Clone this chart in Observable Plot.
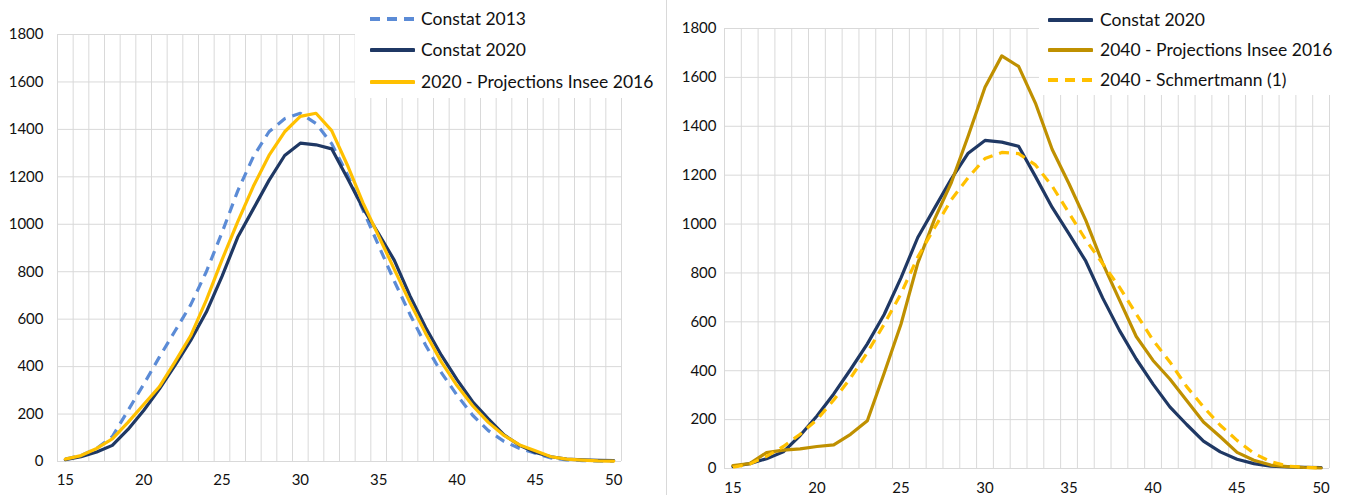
<!DOCTYPE html>
<html>
<head>
<meta charset="utf-8">
<script src="https://cdn.jsdelivr.net/npm/d3@7"></script>
<script src="https://cdn.jsdelivr.net/npm/@observablehq/plot@0.6"></script>
<style>
  html, body { margin: 0; padding: 0; background: #fff; }
  #root { position: relative; width: 1347px; height: 495px; overflow: hidden; font-family: Lato, "Open Sans", sans-serif; }
  .chart { position: absolute; top: 0; }
  .legend { position: absolute; top: 0; background: #fff; }
  .item { position: absolute; font-size: 17.5px; color: #111; white-space: nowrap; line-height: 20px; }
  .sep { position: absolute; left: 666px; top: 0; width: 1px; height: 495px; background: #d9d9d9; }
</style>
</head>
<body>
<div id="root"></div>
<script>
// ---- Data ----
const ages = [15,16,17,18,19,20,21,22,23,24,25,26,27,28,29,30,31,32,33,34,35,36,37,38,39,40,41,42,43,44,45,46,47,48,49,50];
const xTicks = [15,20,25,30,35,40,45,50];
const yTicks = [0,200,400,600,800,1000,1200,1400,1600,1800];

const constat2013 = [10,25,55,105,215,325,440,550,660,800,965,1140,1285,1390,1445,1468,1425,1340,1210,1060,910,760,620,490,375,280,195,130,85,55,35,15,7,4,2,1];
const constat2020 = [8,20,40,68,135,215,305,405,510,630,780,945,1065,1185,1290,1342,1335,1318,1195,1068,960,848,698,565,448,345,252,180,112,68,38,20,10,7,5,4];
const proj2020 = [10,25,55,95,165,240,315,420,530,680,850,1010,1160,1290,1390,1455,1468,1395,1250,1090,950,810,670,540,420,320,235,165,110,70,45,20,10,6,3,2];
const proj2040 = [12,20,65,75,80,90,97,140,195,390,590,840,1020,1170,1360,1560,1688,1645,1495,1305,1165,1015,840,690,540,442,366,278,190,130,66,34,14,8,4,2];
const schmertmann2040 = [5,18,50,90,140,200,280,370,475,590,715,865,985,1100,1190,1268,1293,1288,1242,1155,1045,935,838,742,632,525,436,335,252,177,115,62,28,10,5,2];

const left = [
  {name: "Constat 2013", values: constat2013, color: "#5B8BD6", dash: "10,7"},
  {name: "Constat 2020", values: constat2020, color: "#1F3864", dash: null},
  {name: "2020 - Projections Insee 2016", values: proj2020, color: "#FFC000", dash: null}
];
const right = [
  {name: "Constat 2020", values: constat2020, color: "#1F3864", dash: null},
  {name: "2040 - Projections Insee 2016", values: proj2040, color: "#BF9000", dash: null},
  {name: "2040 - Schmertmann (1)", values: schmertmann2040, color: "#FFC000", dash: "10,7"}
];

const gridX = ages.map(a => a - 0.5).concat([ages[ages.length - 1] + 0.5]);

function chart(series, opts) {
  const marks = [
    Plot.ruleX(gridX, {stroke: "#d9d9d9", strokeWidth: 1}),
    Plot.ruleY(yTicks, {stroke: "#d9d9d9", strokeWidth: 1}),
    Plot.axisX({ticks: xTicks, tickSize: 0, tickPadding: opts.xPad, fontSize: 15, color: "#111", label: null}),
    Plot.axisY({ticks: yTicks, tickSize: 0, tickPadding: opts.yPad, fontSize: 15, color: "#111", label: null, tickFormat: d => String(d)})
  ];
  for (const s of series) {
    const rows = ages.map((a, i) => ({age: a, value: s.values[i]}));
    marks.push(Plot.line(rows, {x: "age", y: "value", stroke: s.color, strokeWidth: 3.2,
      strokeDasharray: s.dash || undefined, strokeLinejoin: "round", strokeLinecap: s.dash ? "butt" : "round"}));
  }
  const svg = Plot.plot({
    width: opts.width, height: 495,
    marginLeft: opts.ml, marginRight: opts.mr, marginTop: opts.mt, marginBottom: opts.mb,
    x: {domain: [14.5, 50.5], axis: null, label: null},
    y: {domain: [0, 1800], axis: null, label: null},
    style: {fontFamily: "Lato, 'Open Sans', sans-serif", background: "transparent", color: "#111", overflow: "visible"},
    marks
  });
  svg.classList.add("chart");
  svg.style.left = opts.left + "px";
  return svg;
}

function legend(series, box) {
  const div = document.createElement("div");
  div.className = "legend";
  div.style.left = box.left + "px";
  div.style.width = box.width + "px";
  div.style.height = box.height + "px";
  series.forEach((s, i) => {
    const y = box.ys[i];
    const ns = "http://www.w3.org/2000/svg";
    const sw = document.createElementNS(ns, "svg");
    sw.setAttribute("width", box.sampleW);
    sw.setAttribute("height", 8);
    sw.style.position = "absolute";
    sw.style.left = box.sampleX + "px";
    sw.style.top = (y - 4) + "px";
    const ln = document.createElementNS(ns, "line");
    ln.setAttribute("x1", s.dash ? 0 : 1.5);
    ln.setAttribute("x2", s.dash ? box.sampleW : box.sampleW - 1.5);
    ln.setAttribute("y1", 4); ln.setAttribute("y2", 4);
    ln.setAttribute("stroke", s.color);
    ln.setAttribute("stroke-width", 4);
    ln.setAttribute("stroke-linecap", s.dash ? "butt" : "round");
    if (s.dash) ln.setAttribute("stroke-dasharray", s.dash);
    sw.appendChild(ln);
    div.appendChild(sw);
    const t = document.createElement("div");
    t.className = "item";
    t.textContent = s.name;
    t.style.left = box.textX + "px";
    t.style.top = (y - 10) + "px";
    div.appendChild(t);
  });
  return div;
}

const root = document.getElementById("root");
root.appendChild(chart(left, {left: 0, width: 666, ml: 57, mr: 45, mt: 34, mb: 34, xPad: 13, yPad: 14}));
root.appendChild(chart(right, {left: 668, width: 679, ml: 56, mr: 18, mt: 28, mb: 27, xPad: 14, yPad: 8}));
const sep = document.createElement("div"); sep.className = "sep"; root.appendChild(sep);
root.appendChild(legend(left, {left: 355, width: 311, height: 98, ys: [19, 50, 82], sampleX: 15, sampleW: 45, textX: 66}));
root.appendChild(legend(right, {left: 1039, width: 308, height: 95, ys: [20, 50, 80], sampleX: 9, sampleW: 45, textX: 61}));
</script>
</body>
</html>
